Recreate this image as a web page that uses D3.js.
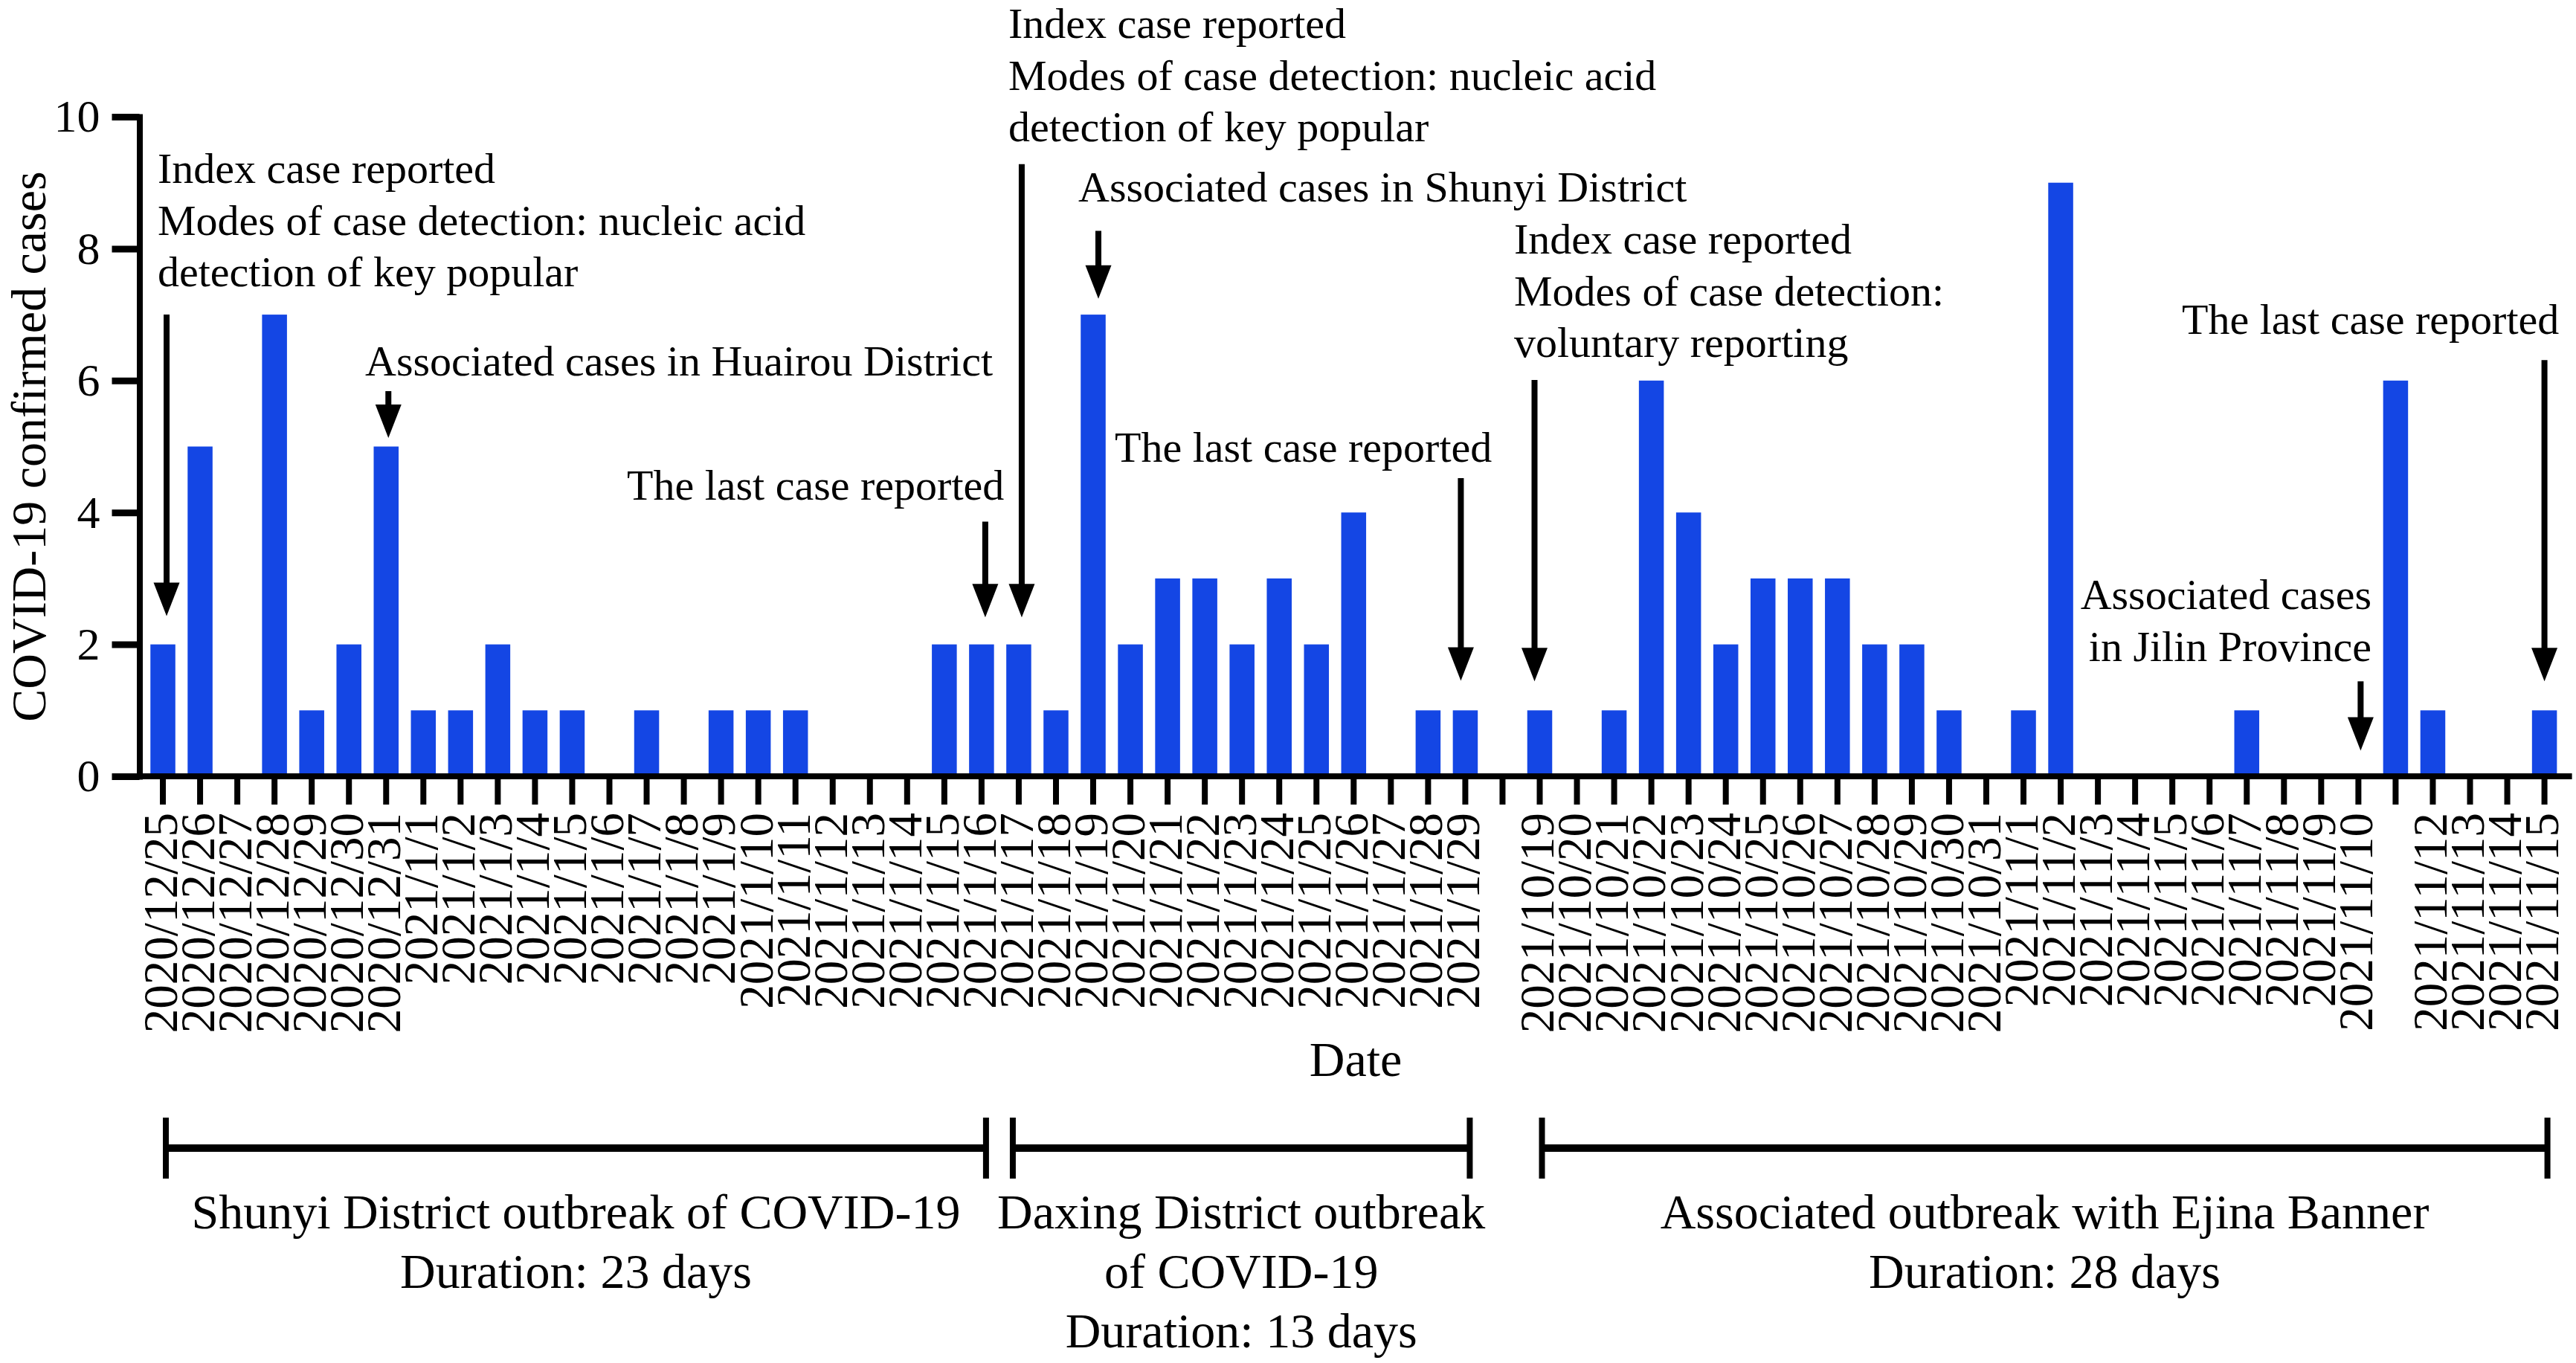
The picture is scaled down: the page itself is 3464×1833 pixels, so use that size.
<!DOCTYPE html>
<html>
<head>
<meta charset="utf-8">
<script src="https://cdn.jsdelivr.net/npm/d3@7"></script>
<style>
  html, body { margin: 0; padding: 0; background: #ffffff; }
  svg { display: block; }
  text { font-family: "Liberation Serif", "Times New Roman", serif; fill: #000; }
</style>
</head>
<body>
<svg id="chart" width="3464" height="1833"></svg>
<script>
// ---------------- data ----------------
const dates = [
  "2020/12/25","2020/12/26","2020/12/27","2020/12/28","2020/12/29","2020/12/30","2020/12/31",
  "2021/1/1","2021/1/2","2021/1/3","2021/1/4","2021/1/5","2021/1/6","2021/1/7","2021/1/8",
  "2021/1/9","2021/1/10","2021/1/11","2021/1/12","2021/1/13","2021/1/14","2021/1/15","2021/1/16",
  "2021/1/17","2021/1/18","2021/1/19","2021/1/20","2021/1/21","2021/1/22","2021/1/23","2021/1/24",
  "2021/1/25","2021/1/26","2021/1/27","2021/1/28","2021/1/29",
  "gap",
  "2021/10/19","2021/10/20","2021/10/21","2021/10/22","2021/10/23","2021/10/24","2021/10/25",
  "2021/10/26","2021/10/27","2021/10/28","2021/10/29","2021/10/30","2021/10/31",
  "2021/11/1","2021/11/2","2021/11/3","2021/11/4","2021/11/5","2021/11/6","2021/11/7",
  "2021/11/8","2021/11/9","2021/11/10","2021/11/11","2021/11/12","2021/11/13","2021/11/14","2021/11/15"
];
// tick labels as printed (the gap slot and 2021/11/11 carry no label in the original)
const tickLabels = [
  "2020/12/25","2020/12/26","2020/12/27","2020/12/28","2020/12/29","2020/12/30","2020/12/31",
  "2021/1/1","2021/1/2","2021/1/3","2021/1/4","2021/1/5","2021/1/6","2021/1/7","2021/1/8",
  "2021/1/9","2021/1/10","2021/1/11","2021/1/12","2021/1/13","2021/1/14","2021/1/15","2021/1/16",
  "2021/1/17","2021/1/18","2021/1/19","2021/1/20","2021/1/21","2021/1/22","2021/1/23","2021/1/24",
  "2021/1/25","2021/1/26","2021/1/27","2021/1/28","2021/1/29",
  "",
  "2021/10/19","2021/10/20","2021/10/21","2021/10/22","2021/10/23","2021/10/24","2021/10/25",
  "2021/10/26","2021/10/27","2021/10/28","2021/10/29","2021/10/30","2021/10/31",
  "2021/11/1","2021/11/2","2021/11/3","2021/11/4","2021/11/5","2021/11/6","2021/11/7",
  "2021/11/8","2021/11/9","2021/11/10","","2021/11/12","2021/11/13","2021/11/14","2021/11/15"
];
const cases = [
  2,5,0,7,1,2,5,
  1,1,2,1,1,0,1,0,
  1,1,1,0,0,0,2,2,
  2,1,7,2,3,3,2,3,
  2,4,0,1,1,
  null,
  1,0,1,6,4,2,3,
  3,3,2,2,1,0,
  1,9,0,0,0,0,1,
  0,0,0,6,1,0,0,1
];
const yTicks = [0, 2, 4, 6, 8, 10];
const yTitle = "COVID-19 confirmed cases";
const xTitle = "Date";

// annotations: arrow at a date slot, arrow start/tip in case units
const arrowSlots  = ["2020/12/25","2020/12/31","2021/1/16","2021/1/17","2021/1/19","2021/1/29","2021/10/19","2021/11/15","2021/11/10"];
const arrowFrom   = [7.0, 5.84, 3.86, 9.28, 8.27, 4.52, 6.01, 6.31, 1.44];
const arrowTo     = [2.43, 5.13, 2.41, 2.41, 7.24, 1.45, 1.44, 1.44, 0.39];
const arrowShift  = [5, 3, 5, 4, 7, -6, -7, 0, 3];

const noteLines = [
  ["Index case reported", "Modes of case detection: nucleic acid", "detection of key popular"],
  ["Associated cases in Huairou District"],
  ["The last case reported"],
  ["Index case reported", "Modes of case detection: nucleic acid", "detection of key popular"],
  ["Associated cases in Shunyi District"],
  ["The last case reported"],
  ["Index case reported", "Modes of case detection:", "voluntary reporting"],
  ["The last case reported"],
  ["Associated cases", "in Jilin Province"]
];
const noteX      = [212, 491, 843, 1356, 1450, 1499, 2036, 2934, 3189];
const noteY      = [246, 505, 672, 51, 271, 621, 341, 449, 819];
const noteAnchor = ["start","start","start","start","start","start","start","start","end"];

// outbreak periods (brackets under the axis)
const periodStart = ["2020/12/25", "2021/1/17", "2021/10/19"];
const periodEnd   = ["2021/1/16", "2021/1/29", "2021/11/15"];
const periodStartShift = [4, -8, 3];
const periodEndShift   = [6, 6, 4];
const periodLines = [
  ["Shunyi District outbreak of COVID-19", "Duration: 23 days"],
  ["Daxing District outbreak", "of COVID-19", "Duration: 13 days"],
  ["Associated outbreak with Ejina Banner", "Duration: 28 days"]
];

// ---------------- layout ----------------
const W = 3464, H = 1833;
const yAxisX = 187.5;
const barColor = "#1446E4";

const svg = d3.select("#chart");
svg.append("rect").attr("width", W).attr("height", H).attr("fill", "#fff");

const x = d3.scaleBand()
  .domain(dates)
  .range([194, 194 + 65 * 50.04])
  .paddingInner(0.33)
  .paddingOuter(0.165);

const y = d3.scaleLinear().domain([0, 10]).range([1044, 157]);
const cx = d => x(d) + x.bandwidth() / 2;

// ---------------- bars ----------------
const barData = dates.map((d, i) => ({ date: d, v: cases[i] })).filter(d => d.v !== null && d.v > 0);
svg.append("g").selectAll("rect")
  .data(barData)
  .join("rect")
  .attr("x", d => x(d.date))
  .attr("width", x.bandwidth())
  .attr("y", d => y(d.v))
  .attr("height", d => y(0) - y(d.v))
  .attr("fill", barColor);

// ---------------- y axis ----------------
const yAxis = d3.axisLeft(y)
  .tickValues(yTicks)
  .tickSize(37)
  .tickSizeOuter(0)
  .tickPadding(16)
  .tickFormat(d3.format("d"));
const gy = svg.append("g").attr("transform", `translate(${yAxisX},0)`).call(yAxis);
gy.select(".domain").attr("stroke", "#000").attr("stroke-width", 8).attr("stroke-linecap", "square");
gy.selectAll(".tick line").attr("stroke", "#000").attr("stroke-width", 9);
gy.selectAll(".tick text")
  .attr("font-family", "'Liberation Serif', 'Times New Roman', serif")
  .attr("font-size", 62)
  .attr("fill", "#000");

// ---------------- x axis ----------------
const xAxis = d3.axisBottom(x)
  .tickSize(38)
  .tickSizeOuter(0)
  .tickFormat((d, i) => tickLabels[i]);
const gx = svg.append("g").attr("transform", `translate(0,${y(0)})`).call(xAxis);
gx.select(".domain").remove();
gx.append("line")
  .attr("x1", yAxisX).attr("x2", x.range()[1] + 12)
  .attr("y1", 0).attr("y2", 0)
  .attr("stroke", "#000").attr("stroke-width", 8);
gx.selectAll(".tick line").attr("stroke", "#000").attr("stroke-width", 8).attr("y1", 4);
gx.selectAll(".tick text")
  .attr("font-family", "'Liberation Serif', 'Times New Roman', serif")
  .attr("font-size", 65)
  .attr("fill", "#000")
  .attr("text-anchor", "end")
  .attr("transform", "rotate(-90)")
  .attr("x", -49)
  .attr("y", 0)
  .attr("dy", "0.29em");

// axis titles
svg.append("text")
  .attr("transform", `translate(61,${(y(0) + y(10)) / 2}) rotate(-90)`)
  .attr("text-anchor", "middle")
  .attr("font-size", 66)
  .text(yTitle);

svg.append("text")
  .attr("x", (yAxisX + x.range()[1] + 12) / 2)
  .attr("y", 1447)
  .attr("text-anchor", "middle")
  .attr("font-size", 66)
  .text(xTitle);

// ---------------- annotations ----------------
const headLen = 45, headHalf = 17.5;
const ga = svg.append("g");
arrowSlots.forEach((s, i) => {
  const ax = cx(s) + arrowShift[i];
  const y0 = y(arrowFrom[i]);
  const tip = y(arrowTo[i]);
  ga.append("line")
    .attr("x1", ax).attr("x2", ax)
    .attr("y1", y0).attr("y2", tip - headLen + 2)
    .attr("stroke", "#000").attr("stroke-width", 8);
  ga.append("path")
    .attr("d", `M${ax - headHalf},${tip - headLen} L${ax + headHalf},${tip - headLen} L${ax},${tip} Z`)
    .attr("fill", "#000");
});

noteLines.forEach((lines, i) => {
  const t = ga.append("text")
    .attr("font-size", 58)
    .attr("text-anchor", noteAnchor[i]);
  lines.forEach((ln, j) => {
    t.append("tspan")
      .attr("x", noteX[i])
      .attr("y", noteY[i] + j * 69.5)
      .text(ln);
  });
});

// ---------------- outbreak brackets ----------------
const bracketY = 1544;
const gb = svg.append("g");
periodStart.forEach((s, i) => {
  const x0 = cx(s) + periodStartShift[i];
  const x1 = cx(periodEnd[i]) + periodEndShift[i];
  gb.append("line")
    .attr("x1", x0).attr("x2", x1)
    .attr("y1", bracketY).attr("y2", bracketY)
    .attr("stroke", "#000").attr("stroke-width", 10);
  [x0, x1].forEach(xx => {
    gb.append("line")
      .attr("x1", xx).attr("x2", xx)
      .attr("y1", bracketY - 41).attr("y2", bracketY + 41)
      .attr("stroke", "#000").attr("stroke-width", 8);
  });
  const t = gb.append("text")
    .attr("font-size", 66)
    .attr("text-anchor", "middle");
  periodLines[i].forEach((ln, j) => {
    t.append("tspan")
      .attr("x", (x0 + x1) / 2)
      .attr("y", 1652 + j * 80)
      .text(ln);
  });
});
</script>
</body>
</html>
